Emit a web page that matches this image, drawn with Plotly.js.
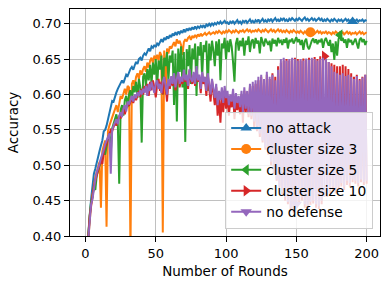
<!DOCTYPE html>
<html>
<head>
<meta charset="utf-8">
<script src="https://cdn.plot.ly/plotly-3.0.1.min.js"></script>
<style>html,body{margin:0;padding:0;background:#fff;}#chart{width:390px;height:289px;}</style>
</head>
<body>
<div id="chart"></div>
<script>
const seriesNames = ["no attack", "cluster size 3", "cluster size 5", "cluster size 10", "no defense"];

const noAttack = [
0.375,0.405,0.435,0.452,0.470,0.488,0.495,0.505,0.512,0.520,
0.528,0.535,0.548,0.550,0.556,0.565,0.572,0.580,0.591,0.590,
0.598,0.603,0.608,0.612,0.618,0.620,0.616,0.624,0.628,0.626,
0.632,0.636,0.639,0.635,0.641,0.646,0.643,0.650,0.652,0.648,
0.655,0.658,0.656,0.662,0.665,0.661,0.668,0.666,0.670,0.667,
0.672,0.670,0.675,0.678,0.674,0.680,0.677,0.682,0.679,0.684,
0.681,0.686,0.683,0.688,0.684,0.689,0.686,0.690,0.687,0.692,
0.688,0.693,0.690,0.694,0.691,0.695,0.692,0.696,0.693,0.696,
0.694,0.697,0.695,0.698,0.694,0.699,0.697,0.700,0.697,0.701,
0.698,0.701,0.699,0.702,0.700,0.703,0.700,0.702,0.704,0.701,
0.702,0.699,0.703,0.701,0.704,0.700,0.702,0.705,0.701,0.703,
0.700,0.704,0.702,0.705,0.701,0.703,0.706,0.702,0.704,0.701,
0.705,0.703,0.706,0.702,0.704,0.707,0.703,0.705,0.702,0.706,
0.704,0.707,0.703,0.705,0.708,0.704,0.706,0.703,0.707,0.705,
0.708,0.704,0.706,0.703,0.707,0.705,0.708,0.706,0.704,0.707,
0.705,0.708,0.706,0.704,0.707,0.709,0.705,0.707,0.704,0.706,
0.708,0.705,0.707,0.704,0.706,0.708,0.705,0.707,0.703,0.706,
0.704,0.707,0.705,0.703,0.706,0.704,0.707,0.705,0.703,0.706,
0.704,0.706,0.703,0.705,0.707,0.704,0.706,0.703,0.705,0.703,
0.705,0.704,0.706,0.703,0.705,0.704,0.706,0.703,0.705,0.704];

const cluster3 = [
0.370,0.400,0.425,0.445,0.458,0.472,0.483,0.490,0.498,0.505,
0.440,0.520,0.528,0.535,0.413,0.548,0.556,0.562,0.570,0.575,
0.580,0.585,0.575,0.590,0.598,0.594,0.602,0.608,0.600,0.612,
0.610,0.375,0.615,0.620,0.612,0.625,0.630,0.622,0.634,0.628,
0.636,0.640,0.632,0.645,0.638,0.648,0.652,0.644,0.655,0.650,
0.656,0.648,0.660,0.655,0.405,0.662,0.600,0.665,0.658,0.668,
0.665,0.670,0.674,0.668,0.678,0.672,0.676,0.670,0.656,0.674,
0.678,0.675,0.680,0.682,0.677,0.683,0.680,0.684,0.681,0.685,
0.682,0.686,0.683,0.685,0.687,0.684,0.686,0.688,0.685,0.687,
0.688,0.686,0.689,0.687,0.690,0.688,0.686,0.689,0.687,0.690,
0.688,0.691,0.689,0.687,0.690,0.688,0.691,0.689,0.687,0.690,
0.689,0.691,0.688,0.690,0.692,0.689,0.691,0.688,0.690,0.689,
0.691,0.689,0.692,0.690,0.688,0.691,0.689,0.692,0.690,0.688,
0.690,0.692,0.689,0.691,0.688,0.690,0.692,0.689,0.691,0.688,
0.690,0.688,0.691,0.689,0.687,0.690,0.688,0.691,0.689,0.687,
0.689,0.687,0.690,0.688,0.686,0.689,0.687,0.690,0.688,0.688,
0.687,0.689,0.686,0.688,0.690,0.687,0.689,0.686,0.688,0.687,
0.689,0.686,0.688,0.687,0.685,0.688,0.686,0.689,0.687,0.685,
0.688,0.686,0.688,0.685,0.687,0.689,0.686,0.688,0.685,0.687,
0.686,0.688,0.685,0.687,0.689,0.686,0.688,0.685,0.687,0.688];

const cluster5 = [
0.372,0.405,0.430,0.448,0.455,0.470,0.465,0.485,0.492,0.498,
0.505,0.512,0.520,0.515,0.530,0.538,0.545,0.517,0.552,0.560,
0.565,0.572,0.560,0.474,0.578,0.585,0.570,0.592,0.598,0.582,
0.600,0.606,0.590,0.612,0.603,0.618,0.595,0.622,0.610,0.532,
0.625,0.630,0.612,0.636,0.620,0.642,0.615,0.645,0.628,0.650,
0.612,0.648,0.635,0.655,0.600,0.652,0.640,0.660,0.620,0.655,
0.645,0.662,0.585,0.658,0.562,0.665,0.632,0.668,0.610,0.660,
0.533,0.664,0.640,0.670,0.615,0.665,0.650,0.672,0.598,0.668,
0.655,0.674,0.625,0.670,0.660,0.676,0.605,0.672,0.648,0.676,
0.662,0.640,0.675,0.655,0.678,0.620,0.672,0.665,0.680,0.650,
0.676,0.660,0.678,0.668,0.645,0.618,0.672,0.680,0.662,0.676,
0.668,0.680,0.655,0.676,0.670,0.682,0.660,0.675,0.678,0.665,
0.680,0.672,0.676,0.658,0.681,0.674,0.668,0.679,0.673,0.670,
0.676,0.661,0.679,0.672,0.677,0.668,0.680,0.674,0.676,0.670,
0.678,0.673,0.680,0.665,0.677,0.675,0.679,0.672,0.676,0.681,
0.674,0.678,0.670,0.677,0.663,0.675,0.679,0.668,0.664,0.672,
0.676,0.679,0.673,0.678,0.671,0.677,0.674,0.679,0.666,0.676,
0.680,0.674,0.669,0.677,0.660,0.672,0.649,0.675,0.655,0.678,
0.684,0.676,0.680,0.673,0.678,0.666,0.679,0.674,0.677,0.670,
0.675,0.679,0.672,0.665,0.677,0.680,0.674,0.678,0.670,0.676];

const cluster10 = [
0.368,0.402,0.428,0.442,0.458,0.470,0.478,0.486,0.495,0.500,
0.508,0.502,0.518,0.525,0.530,0.538,0.545,0.550,0.548,0.555,
0.560,0.556,0.565,0.570,0.566,0.575,0.580,0.572,0.582,0.588,
0.584,0.590,0.595,0.588,0.598,0.592,0.600,0.605,0.596,0.608,
0.600,0.612,0.604,0.615,0.598,0.618,0.606,0.620,0.610,0.596,
0.614,0.622,0.605,0.618,0.600,0.625,0.612,0.590,0.620,0.608,
0.624,0.612,0.628,0.606,0.618,0.630,0.610,0.622,0.615,0.632,
0.618,0.626,0.608,0.634,0.620,0.615,0.628,0.612,0.636,0.618,
0.625,0.602,0.630,0.615,0.622,0.598,0.628,0.612,0.590,0.620,
0.600,0.585,0.610,0.570,0.595,0.560,0.600,0.575,0.605,0.580,
0.598,0.570,0.592,0.582,0.600,0.565,0.595,0.578,0.590,0.572,
0.600,0.560,0.605,0.575,0.598,0.568,0.610,0.565,0.612,0.552,
0.615,0.548,0.620,0.540,0.625,0.532,0.618,0.522,0.628,0.515,
0.622,0.500,0.630,0.488,0.625,0.478,0.640,0.468,0.645,0.458,
0.648,0.450,0.650,0.445,0.648,0.436,0.650,0.432,0.652,0.440,
0.650,0.446,0.648,0.450,0.651,0.440,0.649,0.436,0.652,0.444,
0.650,0.446,0.653,0.440,0.650,0.438,0.654,0.445,0.652,0.654,
0.648,0.455,0.646,0.460,0.644,0.465,0.642,0.460,0.640,0.466,
0.640,0.470,0.642,0.465,0.640,0.472,0.636,0.470,0.630,0.476,
0.625,0.474,0.628,0.470,0.622,0.476,0.625,0.472,0.628,0.474];

const noDefense = [
0.370,0.400,0.430,0.445,0.452,0.468,0.480,0.490,0.495,0.502,
0.510,0.515,0.522,0.530,0.535,0.540,0.545,0.488,0.550,0.556,
0.560,0.565,0.558,0.570,0.575,0.568,0.580,0.585,0.576,0.590,
0.586,0.592,0.598,0.590,0.600,0.595,0.603,0.598,0.606,0.600,
0.608,0.602,0.612,0.598,0.615,0.605,0.618,0.610,0.602,0.615,
0.620,0.608,0.615,0.602,0.618,0.625,0.610,0.600,0.622,0.612,
0.626,0.615,0.630,0.610,0.622,0.632,0.615,0.625,0.618,0.635,
0.620,0.628,0.612,0.636,0.622,0.618,0.632,0.615,0.640,0.620,
0.628,0.608,0.632,0.618,0.625,0.605,0.630,0.615,0.600,0.622,
0.608,0.595,0.615,0.585,0.605,0.592,0.610,0.588,0.612,0.595,
0.605,0.585,0.600,0.590,0.608,0.580,0.602,0.588,0.598,0.582,
0.605,0.575,0.610,0.580,0.605,0.572,0.615,0.570,0.618,0.562,
0.620,0.555,0.625,0.545,0.628,0.535,0.622,0.525,0.632,0.520,
0.625,0.505,0.628,0.490,0.620,0.480,0.635,0.470,0.650,0.462,
0.652,0.455,0.648,0.448,0.650,0.440,0.652,0.438,0.650,0.445,
0.648,0.450,0.650,0.455,0.648,0.445,0.651,0.440,0.649,0.448,
0.652,0.450,0.650,0.445,0.648,0.442,0.650,0.450,0.652,0.455,
0.650,0.460,0.646,0.465,0.640,0.470,0.632,0.465,0.630,0.470,
0.628,0.475,0.630,0.470,0.626,0.478,0.628,0.475,0.625,0.480,
0.622,0.478,0.626,0.475,0.620,0.480,0.624,0.476,0.628,0.478];

const rounds = noAttack.map((_, i) => i + 1);
const markerRounds = [190, 160, 181, 170, 150];
const xTicks = [0, 50, 100, 150, 200];
const yTicks = [0.40, 0.45, 0.50, 0.55, 0.60, 0.65, 0.70];

const allSeries = [noAttack, cluster3, cluster5, cluster10, noDefense];
const colors = ["#1f77b4", "#ff7f0e", "#2ca02c", "#d62728", "#9467bd"];
const symbols = ["triangle-up", "circle", "triangle-left", "triangle-right", "triangle-down"];

const traces = [];
allSeries.forEach((ys, k) => {
  traces.push({x: rounds, y: ys, type: "scatter", mode: "lines",
    line: {color: colors[k], width: 2}, showlegend: false, hoverinfo: "skip"});
  const idx = rounds.indexOf(markerRounds[k]);
  traces.push({x: [rounds[idx]], y: [ys[idx]], type: "scatter", mode: "markers",
    marker: {color: colors[k], symbol: symbols[k], size: 10}, showlegend: false, hoverinfo: "skip"});
});
allSeries.forEach((ys, k) => {
  traces.push({x: [null], y: [null], type: "scatter", mode: "lines+markers", name: seriesNames[k],
    line: {color: colors[k], width: 2}, marker: {color: colors[k], symbol: symbols[k], size: 10}});
});

const font = {family: "DejaVu Sans, sans-serif", size: 13, color: "#000"};
const layout = {
  width: 390, height: 289,
  margin: {l: 70, r: 10, t: 9, b: 53},
  paper_bgcolor: "#fff", plot_bgcolor: "#fff",
  font: font,
  showlegend: true,
  xaxis: {range: [-11, 209.5], tickvals: xTicks, ticktext: xTicks.map(String),
    showgrid: true, gridcolor: "#b0b0b0", gridwidth: 0.8, zeroline: false,
    showline: true, linecolor: "#000", linewidth: 1, mirror: true,
    ticks: "outside", ticklen: 5, tickcolor: "#000", tickfont: {size: 13},
    title: {text: "Number of Rounds", font: {size: 13.5}, standoff: 6}},
  yaxis: {range: [0.40, 0.7208], tickvals: yTicks, ticktext: yTicks.map(v => v.toFixed(2)),
    showgrid: true, gridcolor: "#b0b0b0", gridwidth: 0.8, zeroline: false,
    showline: true, linecolor: "#000", linewidth: 1, mirror: true,
    ticks: "outside", ticklen: 5, tickcolor: "#000", tickfont: {size: 13},
    title: {text: "Accuracy", font: {size: 13.5}, standoff: 10}},
  legend: {x: 0.978, y: 0.033, xanchor: "right", yanchor: "bottom",
    bgcolor: "rgba(255,255,255,0.8)", bordercolor: "#cccccc", borderwidth: 1,
    font: {size: 13.8}, itemwidth: 30, tracegroupgap: 0}
};

Plotly.newPlot("chart", traces, layout, {staticPlot: true, displayModeBar: false});
</script>
</body>
</html>
